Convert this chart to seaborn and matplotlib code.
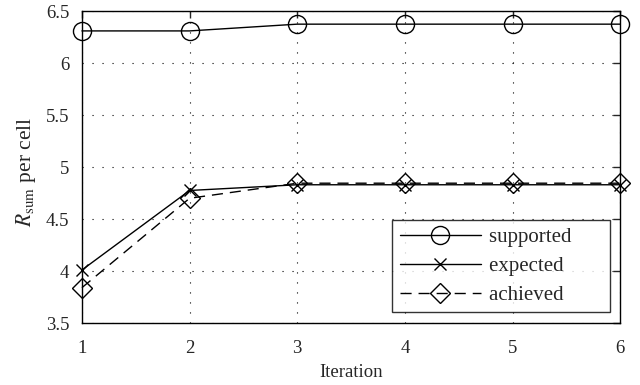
import matplotlib
matplotlib.use("Agg")
import matplotlib.pyplot as plt
import seaborn as sns
import pandas as pd

iterations = [1, 2, 3, 4, 5, 6]
supported = [6.31, 6.31, 6.375, 6.375, 6.375, 6.375]
expected = [4.01, 4.775, 4.83, 4.83, 4.83, 4.83]
achieved = [3.84, 4.70, 4.845, 4.845, 4.845, 4.845]
series_names = ["supported", "expected", "achieved"]
x_ticks = [1, 2, 3, 4, 5, 6]
y_ticks = [3.5, 4, 4.5, 5, 5.5, 6, 6.5]

sns.set_style("white")
plt.rcParams["font.family"] = ["Liberation Serif", "DejaVu Serif"]
plt.rcParams["mathtext.fontset"] = "stix"
plt.rcParams["font.size"] = 13.5

fig = plt.figure(figsize=(6.4, 3.85), dpi=100)
ax = fig.add_axes([0.128, 0.161, 0.841, 0.810])

df = pd.DataFrame({"it": iterations, "supported": supported,
                   "expected": expected, "achieved": achieved})

styles = {
    "supported": dict(marker="o", markersize=13, linestyle="-"),
    "expected": dict(marker="x", markersize=9, linestyle="-"),
    "achieved": dict(marker="D", markersize=10, linestyle=(0, (8, 5))),
}
for name in series_names:
    st = styles[name]
    sns.lineplot(data=df, x="it", y=name, ax=ax, color="black", lw=1.0,
                 marker=st["marker"], markersize=st["markersize"],
                 mfc="none", mec="black", mew=1.0, linestyle=st["linestyle"],
                 label=name, clip_on=False)

ax.set_xlim(1, 6)
ax.set_ylim(3.5, 6.5)
ax.set_xticks(x_ticks)
ax.set_yticks(y_ticks)
ax.set_yticklabels([f"{v:g}" for v in y_ticks])
ax.grid(True, color="black", linestyle=(0, (1, 8)), linewidth=0.8)
ax.tick_params(direction="in", length=5, top=True, right=True, width=1,
               labelsize=13.5)
ax.tick_params(axis="x", pad=12)
ax.tick_params(axis="y", pad=9)
for s in ax.spines.values():
    s.set_color("black")
    s.set_linewidth(1.0)
ax.set_xlabel("Iteration", fontsize=13.5, labelpad=5)
ax.set_ylabel(r"$R_{\mathrm{sum}}$ per cell", fontsize=15.5)
ax.yaxis.set_label_coords(-0.082, 0.484)

handles, labels = ax.get_legend_handles_labels()
padded = [lab + "\u2003\u2002" for lab in labels]
leg = ax.legend(handles, padded, loc="lower right",
                bbox_to_anchor=(0.982, 0.035), frameon=True,
                fancybox=False, edgecolor="black", handlelength=3.9,
                handletextpad=0.4, fontsize=15, borderpad=0.35,
                labelspacing=0.45, borderaxespad=0)
leg.get_frame().set_linewidth(1.0)

fig.savefig("out.png", dpi=100)
